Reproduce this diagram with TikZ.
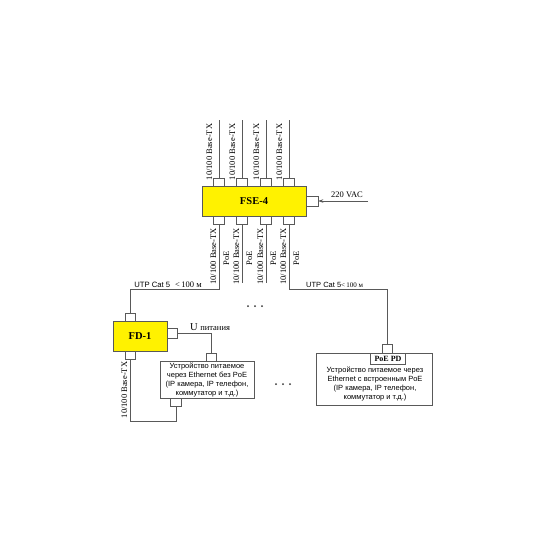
\documentclass[tikz,border=0pt]{standalone}
\usepackage{fontspec}
\setmainfont{Liberation Serif}
\setsansfont{Liberation Sans}
\usetikzlibrary{arrows.meta}
\begin{document}
\begin{tikzpicture}[x=1pt,y=-1pt,
  line/.style={draw=black!65, line width=0.6pt},
  ybox/.style={draw=black!65, line width=0.6pt, fill=yellow, inner sep=0pt, font=\fontsize{10.5}{12}\selectfont\bfseries},
  port/.style={draw=black!65, line width=0.6pt, fill=white, inner sep=0pt, minimum width=11pt, minimum height=8pt},
  wbox/.style={draw=black!65, line width=0.6pt, fill=white, inner sep=0pt},
  lbl/.style={inner sep=0pt, font=\fontsize{8.5}{10}\selectfont},
  stxt/.style={align=center, inner sep=0pt, font=\sffamily\fontsize{7.5}{9}\selectfont},
  dot/.style={fill=black!80, draw=none}
]
\useasboundingbox[fill=white] (0,0) rectangle (550,550);

% FSE-4
\node[ybox, minimum width=104pt, minimum height=30pt] (fse) at (254,201) {FSE-4};

\foreach \i/\x in {1/219,2/242,3/266,4/289}{
  \node[port] (t\i) at (\x,182) {};
  \coordinate (te\i) at (\x,120);
  \draw[line] (t\i.north) -- (te\i);
  \node[lbl, rotate=90, anchor=base] (tl\i) at (\x-7,152) {10/100 Base-TX};
  \node[port] (b\i) at (\x,220) {};
  \node[lbl, rotate=90, anchor=base] (bl\i) at (\x-3,256.5) {10/100 Base-TX};
  \node[lbl, rotate=90, anchor=base] (bp\i) at (\x+10,258) {PoE};
}

% 220 VAC
\node[port, minimum width=12pt, minimum height=10pt] (vac) at (312,201) {};
\coordinate (vacend) at (368,201);
\draw[line, -{Stealth[length=5pt,width=3.5pt]}] (vacend) -- (vac.east);
\node[lbl, anchor=base] (vacl) at (347,197.5) {220 VAC};

% bottom lines of FSE-4
\coordinate (e2) at (242,283);
\coordinate (e3) at (266,283);
\draw[line] (b2.south) -- (e2);
\draw[line] (b3.south) -- (e3);
\coordinate (k1) at (219,289);
\coordinate (k4) at (289,289);

% FD-1
\node[ybox, minimum width=54pt, minimum height=30pt] (fd) at (140,336) {FD-1};
\node[port, minimum width=10pt] (fdt) at (130,317) {};
\node[port, minimum width=10pt] (fdb) at (130,355) {};
\node[port, minimum width=10pt, minimum height=10pt] (fdr) at (172,333) {};

\draw[line] (b1.south) -- (k1) -| (fdt.north);
\node[anchor=base, inner sep=0pt] (utp1) at (168,287)
  {\sffamily\fontsize{7.7}{9}\selectfont UTP Cat 5\hspace{5pt}\rmfamily\fontsize{8.5}{10}\selectfont <\,100 м};

% device without PoE
\node[wbox, stxt, minimum width=94pt, minimum height=37pt] (dev) at (207,379.5)
  {Устройство питаемое\\через Ethernet без PoE\\(IP камера, IP телефон,\\коммутатор и т.д.)};
\node[port, minimum width=10pt] (devt) at (211,357) {};
\node[port, minimum width=11pt] (devb) at (176,402) {};

\draw[line] (fdr.east) -| (devt.north);
\node[anchor=base west, inner sep=0pt] (upit) at (190,330.5)
  {\fontsize{10.5}{12}\selectfont U\hspace{2.5pt}\fontsize{8.5}{10}\selectfont питания};

\coordinate (k5) at (130,421);
\draw[line] (fdb.south) -- (k5) -| (devb.south);
\node[lbl, rotate=90, anchor=base] (fdl) at (127,390) {10/100 Base-TX};

% PoE PD device
\node[wbox, minimum width=116pt, minimum height=52pt] (pd) at (374,379) {};
\node[wbox, minimum width=35pt, minimum height=11pt, font=\fontsize{8}{9}\selectfont\bfseries] (pdl) at (388,358.5) {PoE PD};
\node[port, minimum width=10pt, minimum height=9pt] (pdp) at (387,348.5) {};
\node[stxt] (pdt) at (375,383.5)
  {Устройство питаемое через\\Ethernet с встроенным PoE\\(IP камера, IP телефон,\\коммутатор и т.д.)};

\draw[line] (b4.south) -- (k4) -| (pdp.north);
\node[anchor=base west, inner sep=0pt] (utp2) at (306,287)
  {\sffamily\fontsize{7.5}{9}\selectfont UTP Cat 5\rmfamily\fontsize{7}{9}\selectfont <\,100 м};

% ellipsis dots
\foreach \x in {248,255,262}{ \fill[dot] (\x,306) circle (1pt); }
\foreach \x in {276,283,290}{ \fill[dot] (\x,384) circle (1pt); }
\end{tikzpicture}
\end{document}
